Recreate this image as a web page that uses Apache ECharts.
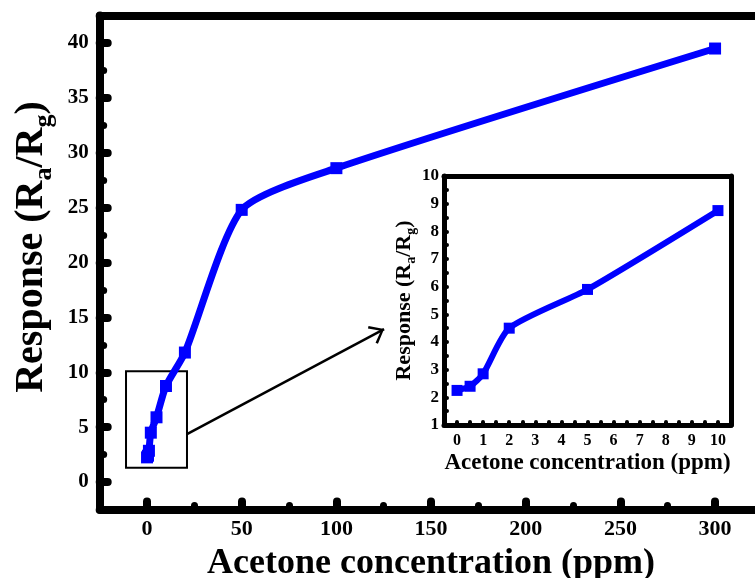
<!DOCTYPE html>
<html><head><meta charset="utf-8">
<script src="https://cdn.jsdelivr.net/npm/echarts@6/dist/echarts.min.js"></script>
<style>html,body{margin:0;padding:0;background:#fff}#c{width:755px;height:578px}</style>
</head><body><div id="c"></div>
<script>
// ---- data ----
const concentration = [0, 0.5, 1, 2, 5, 10, 20, 50, 100, 300];
const response = [2.25, 2.4, 2.85, 4.5, 5.9, 8.75, 11.8, 24.8, 28.6, 39.5];
const insetConcentration = [0, 0.5, 1, 2, 5, 10];
const insetResponse = [2.25, 2.4, 2.85, 4.5, 5.9, 8.75];
// ---- ticks ----
const mainXMajorTicks = [0, 50, 100, 150, 200, 250, 300];
const mainXMinorTicks = [25, 75, 125, 175, 225, 275];
const mainYMajorTicks = [0, 5, 10, 15, 20, 25, 30, 35, 40];
const mainYMinorTicks = [2.5, 7.5, 12.5, 17.5, 22.5, 27.5, 32.5, 37.5];
const insetXLabels = [0, 1, 2, 3, 4, 5, 6, 7, 8, 9, 10];
const insetXTicks = [0, 0.5, 1, 1.5, 2, 2.5, 3, 3.5, 4, 4.5, 5, 5.5, 6, 6.5, 7, 7.5, 8, 8.5, 9, 9.5, 10];
// ---- annotations (data coordinates) ----
const zoomBox = [[-11.1, 1.3], [21.1, 10.1]];
const arrowFrom = [21.1, 4.37];
const arrowTo = [125.2, 13.94];

const FONT = '"Liberation Serif","Times New Roman",serif';
const BLUE = '#0000ff';
const ARROW = 'path://M10,0 L10.01,0 L10,0.01 Z M10,14 L20,26.3 L18.1,28 L10,17.6 L1.9,28 L0,26.3 Z';

function frameLine(w) { return { show: true, onZero: false, lineStyle: { color: '#000', width: w, cap: 'round' } }; }
function tickStyle(len, w) { return { show: true, inside: true, length: len, lineStyle: { color: '#000', width: w, cap: 'round' } }; }
const noLine = { show: false, onZero: false };

const chart = echarts.init(document.getElementById('c'), null, { renderer: 'canvas' });
chart.setOption({
  animation: false,
  backgroundColor: '#fff',
  grid: [
    { left: 99.7, top: 15.6, width: 662.7, height: 493.9, outerBoundsMode: 'none', containLabel: false },
    { left: 444, top: 176, width: 287, height: 249, backgroundColor: '#fff', show: true, borderWidth: 0, outerBoundsMode: 'none', containLabel: false },
    { left: 99.7, top: 15.6, width: 662.7, height: 493.9, outerBoundsMode: 'none', containLabel: false }
  ],
  xAxis: [
    { type: 'value', gridIndex: 0, position: 'bottom', min: -25, max: 325,
      axisLine: frameLine(8), splitLine: { show: false },
      axisTick: Object.assign(tickStyle(8, 8), { customValues: mainXMajorTicks }),
      axisLabel: { customValues: mainXMajorTicks, fontFamily: FONT, fontWeight: 'bold', fontSize: 22, color: '#000', margin: 9 },
      name: 'Acetone concentration (ppm)', nameLocation: 'middle', nameGap: 32,
      nameTextStyle: { fontFamily: FONT, fontWeight: 'bold', fontSize: 36, color: '#000' } },
    { type: 'value', gridIndex: 0, position: 'top', min: -25, max: 325,
      axisLine: frameLine(8), axisTick: { show: false }, axisLabel: { show: false }, splitLine: { show: false } },
    { type: 'value', gridIndex: 1, position: 'bottom', min: -0.5, max: 10.5,
      axisLine: frameLine(5), splitLine: { show: false },
      axisTick: Object.assign(tickStyle(3, 4), { customValues: insetXTicks }),
      axisLabel: { customValues: insetXLabels, fontFamily: FONT, fontWeight: 'bold', fontSize: 16, color: '#000', margin: 8 },
      name: 'Acetone concentration (ppm)', nameLocation: 'middle', nameGap: 27,
      nameTextStyle: { fontFamily: FONT, fontWeight: 'bold', fontSize: 23, color: '#000' } },
    { type: 'value', gridIndex: 1, position: 'top', min: -0.5, max: 10.5,
      axisLine: frameLine(5), axisTick: { show: false }, axisLabel: { show: false }, splitLine: { show: false } },
    { type: 'value', gridIndex: 2, position: 'bottom', min: -25, max: 325,
      axisLine: noLine, splitLine: { show: false }, axisLabel: { show: false },
      axisTick: Object.assign(tickStyle(4, 7), { customValues: mainXMinorTicks }) }
  ],
  yAxis: [
    { type: 'value', gridIndex: 0, position: 'left', min: -2.5, max: 42.5,
      axisLine: frameLine(8), splitLine: { show: false },
      axisTick: Object.assign(tickStyle(8, 8), { customValues: mainYMajorTicks }),
      axisLabel: { customValues: mainYMajorTicks, fontFamily: FONT, fontWeight: 'bold', fontSize: 21, color: '#000', margin: 11 },
      name: '{n|Response (R}{s|a}{n|/R}{s|g}{n|)}', nameLocation: 'middle', nameGap: 42,
      nameTextStyle: { color: '#000', padding: [0, 0, 0, 31], rich: {
        n: { fontFamily: FONT, fontWeight: 'bold', fontSize: 40, lineHeight: 50, color: '#000' },
        s: { fontFamily: FONT, fontWeight: 'bold', fontSize: 26, lineHeight: 26, verticalAlign: 'bottom', color: '#000' } } } },
    { type: 'value', gridIndex: 1, position: 'left', min: 1, max: 10, interval: 1,
      axisLine: frameLine(5), splitLine: { show: false },
      axisTick: tickStyle(3, 4),
      minorTick: { show: true, splitNumber: 2, length: 3, lineStyle: { color: '#000', width: 4, cap: 'round' } },
      minorSplitLine: { show: false },
      axisLabel: { fontFamily: FONT, fontWeight: 'bold', fontSize: 17, color: '#000', margin: 5 },
      name: '{n|Response (R}{s|a}{n|/R}{s|g}{n|)}', nameLocation: 'middle', nameGap: 25,
      nameTextStyle: { color: '#000', rich: {
        n: { fontFamily: FONT, fontWeight: 'bold', fontSize: 22, lineHeight: 28, color: '#000' },
        s: { fontFamily: FONT, fontWeight: 'bold', fontSize: 14, lineHeight: 14, verticalAlign: 'bottom', color: '#000' } } } },
    { type: 'value', gridIndex: 1, position: 'right', min: 1, max: 10,
      axisLine: frameLine(5), axisTick: { show: false }, axisLabel: { show: false }, splitLine: { show: false } },
    { type: 'value', gridIndex: 2, position: 'left', min: -2.5, max: 42.5,
      axisLine: noLine, splitLine: { show: false }, axisLabel: { show: false },
      axisTick: Object.assign(tickStyle(4, 7), { customValues: mainYMinorTicks }) }
  ],
  series: [
    { type: 'line', xAxisIndex: 0, yAxisIndex: 0, silent: true,
      data: concentration.map((x, i) => [x, response[i]]),
      smooth: 0.22, symbol: 'rect', symbolSize: 12,
      lineStyle: { color: BLUE, width: 7 }, itemStyle: { color: BLUE },
      emphasis: { disabled: true }, z: 3,
      markArea: { silent: true, label: { show: false },
        itemStyle: { color: 'rgba(0,0,0,0)', borderColor: '#000', borderWidth: 2 },
        data: [[{ coord: zoomBox[0] }, { coord: zoomBox[1] }]] },
      markLine: { silent: true, label: { show: false }, symbol: ['none', ARROW], symbolSize: [20, 28],
        lineStyle: { color: '#000', width: 2.5, type: 'solid' }, emphasis: { disabled: true },
        data: [[{ coord: arrowFrom }, { coord: arrowTo }]] } },
    { type: 'line', xAxisIndex: 2, yAxisIndex: 1, silent: true,
      data: insetConcentration.map((x, i) => [x, insetResponse[i]]),
      smooth: 0.22, symbol: 'rect', symbolSize: 11,
      lineStyle: { color: BLUE, width: 6 }, itemStyle: { color: BLUE },
      emphasis: { disabled: true }, z: 3 }
  ]
});
</script></body></html>
